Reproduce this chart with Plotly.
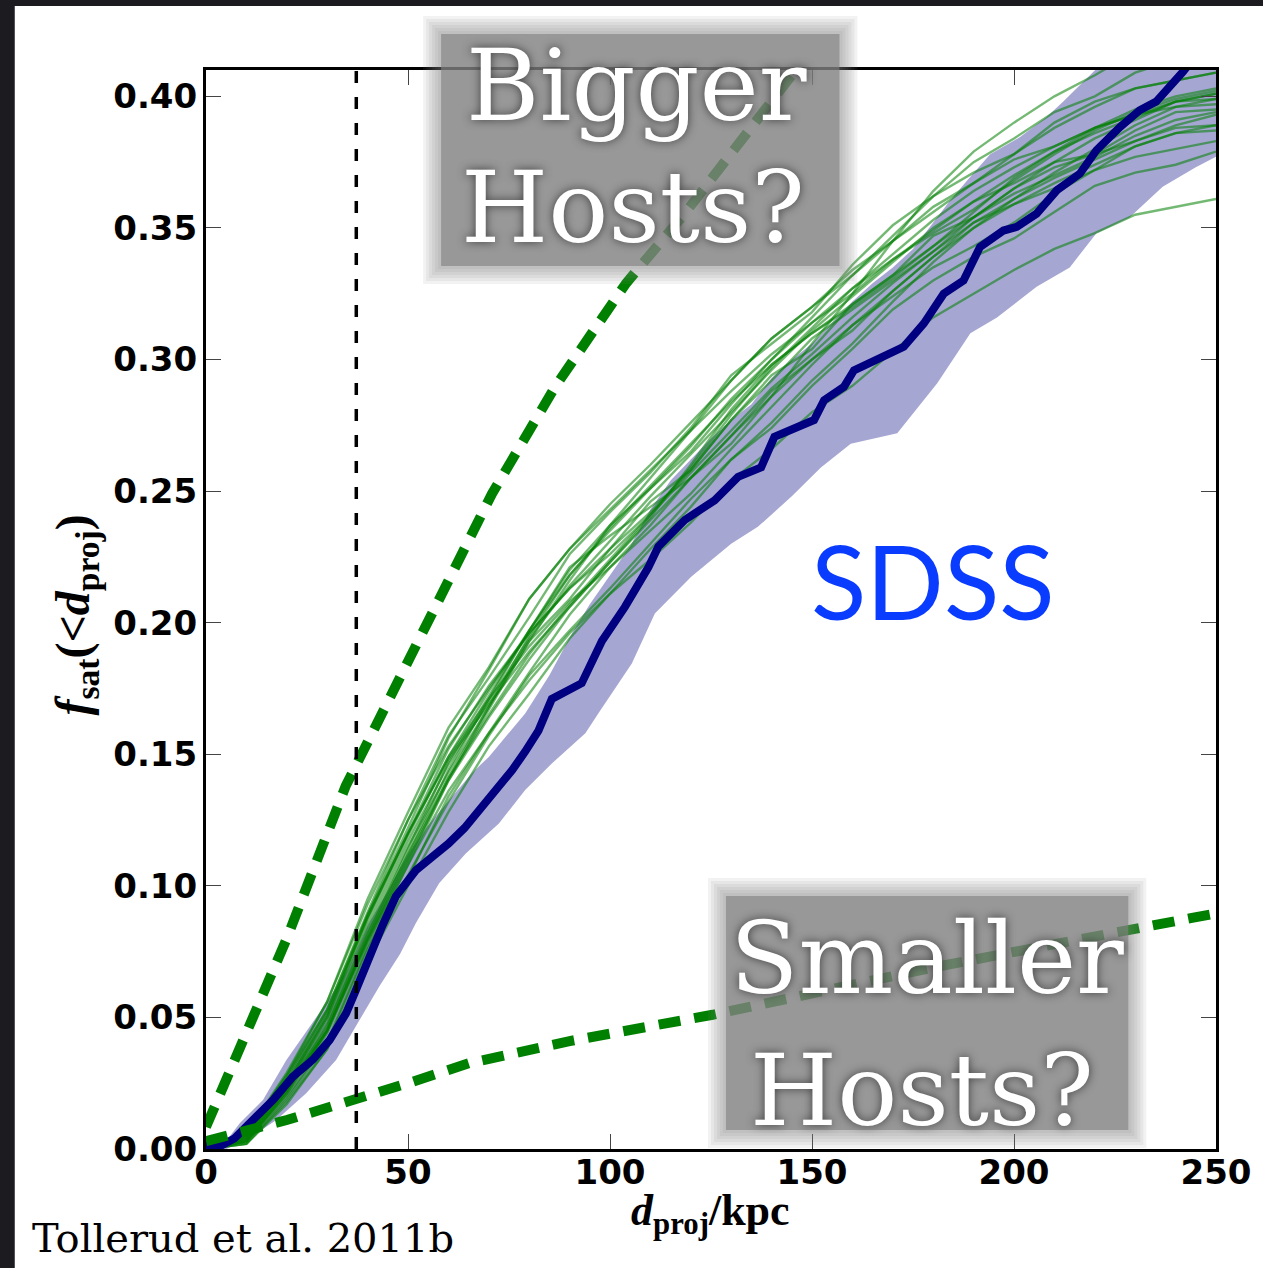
import plotly.graph_objects as go

# ---------------- data ----------------
sdss_x = [0, 4, 7, 10, 13, 16.6, 21.5, 26.5, 30.6, 34.7, 37, 40, 43.7, 47, 52, 56, 60, 64, 68.4, 72,
          75.8, 79, 82.3, 85.6, 89, 93, 98, 103.7, 109.5, 112, 118.5, 125.9, 131.7, 137.4, 140.7,
          144.8, 150.5, 153, 157.9, 160.4, 167, 172.7, 177.7, 182.6, 187.5, 191.6, 197.4, 200.7,
          205.6, 210.6, 216.3, 220.4, 226.2, 231.1, 235.2, 241.8, 250]
sdss_y = [0.0015, 0.0015, 0.004, 0.0085, 0.013, 0.0186, 0.0275, 0.034, 0.0414, 0.0516, 0.060, 0.072,
          0.085, 0.096, 0.106, 0.111, 0.116, 0.122, 0.130, 0.137, 0.144, 0.151, 0.159, 0.171, 0.174,
          0.177, 0.193, 0.206, 0.221, 0.229, 0.239, 0.2465, 0.2554, 0.259, 0.2706, 0.273, 0.277,
          0.2845, 0.2896, 0.2959, 0.301, 0.3048, 0.3137, 0.325, 0.330, 0.3428, 0.349, 0.3504, 0.3554,
          0.3643, 0.3706, 0.3795, 0.3883, 0.3947, 0.398, 0.4093, 0.425]

band_up_x = [0, 5, 8.4, 14.1, 19.9, 25, 30, 35, 40, 45, 50, 55, 60, 65.9, 70, 79, 85, 90.6, 95, 100,
             105, 110, 115, 120, 125, 130, 135, 140, 145, 150, 155, 160, 165, 170, 175, 180, 184,
             188.4, 194.1, 201.5, 208, 212.2, 219.6, 230, 250]
band_up_y = [0.0, 0.003, 0.0099, 0.0186, 0.0338, 0.045, 0.056, 0.068, 0.085, 0.098, 0.112, 0.123,
             0.132, 0.143, 0.149, 0.1655, 0.180, 0.196, 0.207, 0.218, 0.229, 0.243, 0.254, 0.262,
             0.270, 0.277, 0.283, 0.293, 0.300, 0.306, 0.314, 0.322, 0.329, 0.335, 0.342, 0.352,
             0.360, 0.368, 0.378, 0.3845, 0.392, 0.398, 0.409, 0.425, 0.45]
band_lo_x = [0, 5, 10, 17.4, 24.8, 32.2, 38, 43, 48, 52, 57.7, 64.3, 72.5, 79, 85.6, 93.9, 97.1,
             105.4, 111.1, 120.1, 130, 136.6, 145, 152.2, 159.6, 171.1, 181, 189.2, 195.8, 205.6,
             213.8, 220.4, 228.6, 236.8, 245, 250]
band_lo_y = [0.0, 0.0, 0.0034, 0.011, 0.0212, 0.0338, 0.049, 0.062, 0.074, 0.086, 0.101, 0.1123,
             0.1237, 0.1364, 0.1465, 0.158, 0.1655, 0.1845, 0.2035, 0.2174, 0.230, 0.2364, 0.248,
             0.259, 0.268, 0.272, 0.291, 0.310, 0.316, 0.3276, 0.335, 0.348, 0.354, 0.3656, 0.373,
             0.377]

green_x = [0, 10, 20, 30, 40, 50, 60, 70, 80, 90, 100, 110, 120, 130, 140, 150, 160, 170, 180,
           190, 200, 210, 220, 230, 240, 250]
mock_a = [0, .006, .028, .053, .090, .125, .157, .179, .202, .226, .242, .257, .274, .294, .306, .318, .336, .351, .362, .371, .378, .390, .398, .403, .406, .409]
mock_b = [0, .002, .019, .040, .076, .104, .132, .157, .180, .197, .213, .230, .247, .262, .274, .290, .304, .319, .330, .339, .346, .356, .366, .371, .374, .379]
mock_c = [0, .004, .024, .050, .088, .120, .148, .169, .189, .206, .223, .240, .260, .281, .298, .310, .321, .332, .343, .356, .369, .379, .388, .393, .396, .397]
mock_d = [0, .003, .021, .045, .081, .114, .147, .172, .197, .220, .237, .251, .265, .283, .300, .316, .332, .347, .362, .375, .384, .394, .400, .409, .414, .419]
mock_e = [0, .006, .029, .056, .093, .125, .153, .175, .196, .213, .228, .242, .258, .277, .292, .308, .319, .330, .341, .354, .365, .373, .378, .383, .388, .389]
mock_f = [0, .002, .017, .038, .073, .103, .134, .158, .181, .203, .221, .237, .255, .271, .288, .300, .311, .326, .339, .352, .359, .365, .372, .381, .386, .387]
mock_g = [0, .005, .025, .051, .089, .122, .156, .182, .209, .228, .243, .258, .273, .288, .302, .314, .325, .338, .349, .360, .367, .375, .384, .391, .398, .401]
mock_h = [0, .003, .022, .045, .079, .108, .136, .158, .178, .196, .211, .224, .238, .254, .266, .280, .290, .303, .316, .325, .334, .342, .348, .355, .358, .361]
mock_i = [0, .005, .027, .053, .089, .120, .149, .171, .191, .208, .221, .235, .249, .266, .282, .298, .313, .324, .335, .343, .352, .363, .372, .377, .380, .383]
mock_j = [0, .003, .020, .041, .077, .108, .140, .167, .193, .216, .237, .255, .273, .292, .308, .320, .332, .345, .356, .367, .378, .388, .396, .403, .406, .409]
mock_k = [0, .004, .024, .046, .083, .115, .143, .168, .193, .209, .228, .246, .258, .277, .294, .304, .321, .332, .347, .354, .365, .375, .378, .387, .394, .395]
mock_l = [0, .006, .028, .056, .095, .128, .160, .183, .209, .228, .245, .260, .276, .292, .308, .320, .334, .345, .358, .367, .376, .381, .388, .393, .398, .399]
mock_m = [0, .002, .018, .038, .071, .100, .128, .153, .173, .194, .211, .228, .244, .262, .276, .292, .306, .322, .337, .350, .361, .371, .380, .389, .396, .399]
mock_n = [0, .005, .025, .050, .087, .119, .149, .174, .197, .218, .235, .251, .267, .285, .300, .314, .327, .340, .353, .364, .373, .381, .388, .395, .400, .403]
mock_o = [0, .003, .022, .045, .080, .110, .140, .164, .186, .206, .223, .239, .255, .271, .286, .300, .313, .326, .339, .350, .359, .367, .374, .381, .386, .389]
mock_p = [0, .004, .023, .045, .080, .112, .144, .171, .197, .221, .233, .244, .255, .268, .286, .306, .325, .345, .364, .379, .390, .400, .408, .417, .424, .427]
mock_q = [0, .005, .026, .052, .088, .120, .152, .176, .196, .213, .226, .241, .259, .279, .297, .312, .327, .338, .348, .357, .368, .378, .387, .394, .399, .402]
mock_r = [0, .003, .021, .044, .079, .110, .141, .168, .195, .218, .236, .252, .268, .284, .298, .310, .320, .331, .343, .354, .363, .370, .377, .385, .391, .394]
mock_s = [0, .005, .024, .048, .085, .117, .146, .170, .194, .214, .231, .248, .264, .280, .296, .311, .324, .337, .350, .360, .370, .379, .386, .392, .398, .401]
mock_t = [0, .004, .022, .047, .082, .112, .141, .165, .188, .207, .224, .241, .257, .273, .289, .302, .316, .329, .341, .352, .361, .369, .376, .383, .389, .393]
mock_runs = [mock_a, mock_b, mock_c, mock_d, mock_e, mock_f, mock_g, mock_h, mock_i, mock_j,
             mock_k, mock_l, mock_m, mock_n, mock_o, mock_p, mock_q, mock_r, mock_s, mock_t]

bigger_x = [0, 9.2, 13.3, 20, 34.6, 45, 57.7, 70.8, 86.4, 104, 118.5, 131.7, 144, 150]
bigger_y = [0.0084, 0.0414, 0.0554, 0.080, 0.138, 0.170, 0.2098, 0.249, 0.2896, 0.329, 0.3555,
            0.381, 0.406, 0.418]
smaller_x = [0, 3.5, 10, 20, 37.1, 50, 65.1, 90, 125.4, 180, 244.4, 250]
smaller_y = [0.003, 0.0047, 0.007, 0.011, 0.0186, 0.025, 0.0326, 0.041, 0.051, 0.069, 0.0879, 0.0895]

vline_x = 37.2
x_ticks = [0, 50, 100, 150, 200, 250]
y_ticks = [0.0, 0.05, 0.10, 0.15, 0.20, 0.25, 0.30, 0.35, 0.40]
y_tick_labels = ["0.00", "0.05", "0.10", "0.15", "0.20", "0.25", "0.30", "0.35", "0.40"]

# ---------------- layout helpers (pixel -> paper) ----------------
L, R, T, B = 206, 1220, 70, 1149
W, H = 1263, 1268


def px(p):
    return (p - L) / (R - L)


def py(q):
    return (B - q) / (B - T)


fig = go.Figure()

# blue band
fig.add_trace(go.Scatter(
    x=band_up_x + band_lo_x[::-1], y=band_up_y + band_lo_y[::-1],
    fill="toself", fillcolor="rgba(0,0,128,0.35)", line=dict(width=0),
    mode="lines", hoverinfo="skip"))

# green mock lines
for run in mock_runs:
    fig.add_trace(go.Scatter(x=green_x, y=run, mode="lines",
                             line=dict(color="rgba(0,128,0,0.55)", width=2.4),
                             hoverinfo="skip"))

# SDSS line
fig.add_trace(go.Scatter(x=sdss_x, y=sdss_y, mode="lines",
                         line=dict(color="#000080", width=8), hoverinfo="skip"))

# dashed host curves
fig.add_trace(go.Scatter(x=bigger_x, y=bigger_y, mode="lines",
                         line=dict(color="#008000", width=10, dash="22px,14px"),
                         hoverinfo="skip"))
fig.add_trace(go.Scatter(x=smaller_x, y=smaller_y, mode="lines",
                         line=dict(color="#008000", width=10, dash="22px,14px"),
                         hoverinfo="skip"))

# vertical dashed line
fig.add_trace(go.Scatter(x=[vline_x, vline_x], y=[0, 0.41], mode="lines",
                         line=dict(color="black", width=3.5, dash="12px,14px"),
                         hoverinfo="skip"))

shapes = [
    dict(type="rect", xref="paper", yref="paper", x0=px(14), x1=px(W) + 0.05,
         y0=py(H) - 0.05, y1=py(6), fillcolor="white", line=dict(width=0), layer="below"),
]


def soft_box(x0, y0, x1, y1):
    out = []
    layers = [(18, 0.1), (15, 0.1), (12, 0.1), (9, 0.1), (6, 0.1), (3, 0.1), (0, 0.64)]
    for grow, alpha in layers:
        out.append(dict(type="rect", xref="paper", yref="paper",
                        x0=px(x0 - grow), x1=px(x1 + grow), y0=py(y1 + grow), y1=py(y0 - grow),
                        fillcolor="rgba(130,130,130,%s)" % alpha, line=dict(width=0),
                        layer="above"))
    return out


shapes += soft_box(442, 34, 842, 266)
shapes += soft_box(728, 896, 1132, 1130)

box_font = dict(family="DejaVu Serif", size=100, color="white",
                shadow="0px 0px 10px rgba(50,50,50,0.9)")

annotations = [
    dict(text="Bigger", x=px(638), y=py(85), xref="paper", yref="paper",
         showarrow=False, font=box_font, xanchor="center", yanchor="middle"),
    dict(text="Hosts?", x=px(635), y=py(207), xref="paper", yref="paper",
         showarrow=False, font=box_font, xanchor="center", yanchor="middle"),
    dict(text="Smaller", x=px(930), y=py(958), xref="paper", yref="paper",
         showarrow=False, font=box_font, xanchor="center", yanchor="middle"),
    dict(text="Hosts?", x=px(925), y=py(1090), xref="paper", yref="paper",
         showarrow=False, font=box_font, xanchor="center", yanchor="middle"),
    dict(text="SDSS", x=px(936), y=py(580), xref="paper", yref="paper",
         showarrow=False, font=dict(family="Lato", size=102, color="#0a3cff"),
         xanchor="center", yanchor="middle"),
    dict(text="<i>f</i><sub>sat</sub>(&lt;<i>d</i><sub>proj</sub>)", x=px(75), y=py(615),
         xref="paper", yref="paper", showarrow=False, textangle=-90,
         font=dict(family="Liberation Serif", size=48, color="black", weight="bold"),
         xanchor="center", yanchor="middle"),
    dict(text="<i>d</i><sub>proj</sub>/kpc", x=px(712), y=py(1213),
         xref="paper", yref="paper", showarrow=False,
         font=dict(family="Liberation Serif", size=44, color="black", weight="bold"),
         xanchor="center", yanchor="middle"),
    dict(text="Tollerud et al. 2011b", x=px(29), y=py(1238),
         xref="paper", yref="paper", showarrow=False,
         font=dict(family="DejaVu Serif", size=40, color="black"),
         xanchor="left", yanchor="middle"),
]

tick_font = dict(family="DejaVu Sans", size=34, color="black", weight="bold")

fig.update_layout(
    width=W, height=H, autosize=False,
    margin=dict(l=L, r=W - R, t=T, b=H - B, pad=0),
    paper_bgcolor="#1b1b20", plot_bgcolor="white",
    showlegend=False, hovermode=False,
    shapes=shapes, annotations=annotations,
    xaxis=dict(range=[0, 250], tickvals=x_ticks, ticktext=[str(v) for v in x_ticks],
               ticks="inside", ticklen=15, tickwidth=1.2, tickcolor="#444",
               showline=True, linewidth=3, linecolor="black", mirror="allticks",
               showgrid=False, zeroline=False, tickfont=tick_font, ticklabelstandoff=-9),
    yaxis=dict(range=[0, 0.41], tickvals=y_ticks, ticktext=y_tick_labels,
               ticks="inside", ticklen=15, tickwidth=1.2, tickcolor="#444",
               showline=True, linewidth=3, linecolor="black", mirror="allticks",
               showgrid=False, zeroline=False, tickfont=tick_font, ticklabelstandoff=-1),
)

fig.write_html("out.html", config={"displayModeBar": False})
